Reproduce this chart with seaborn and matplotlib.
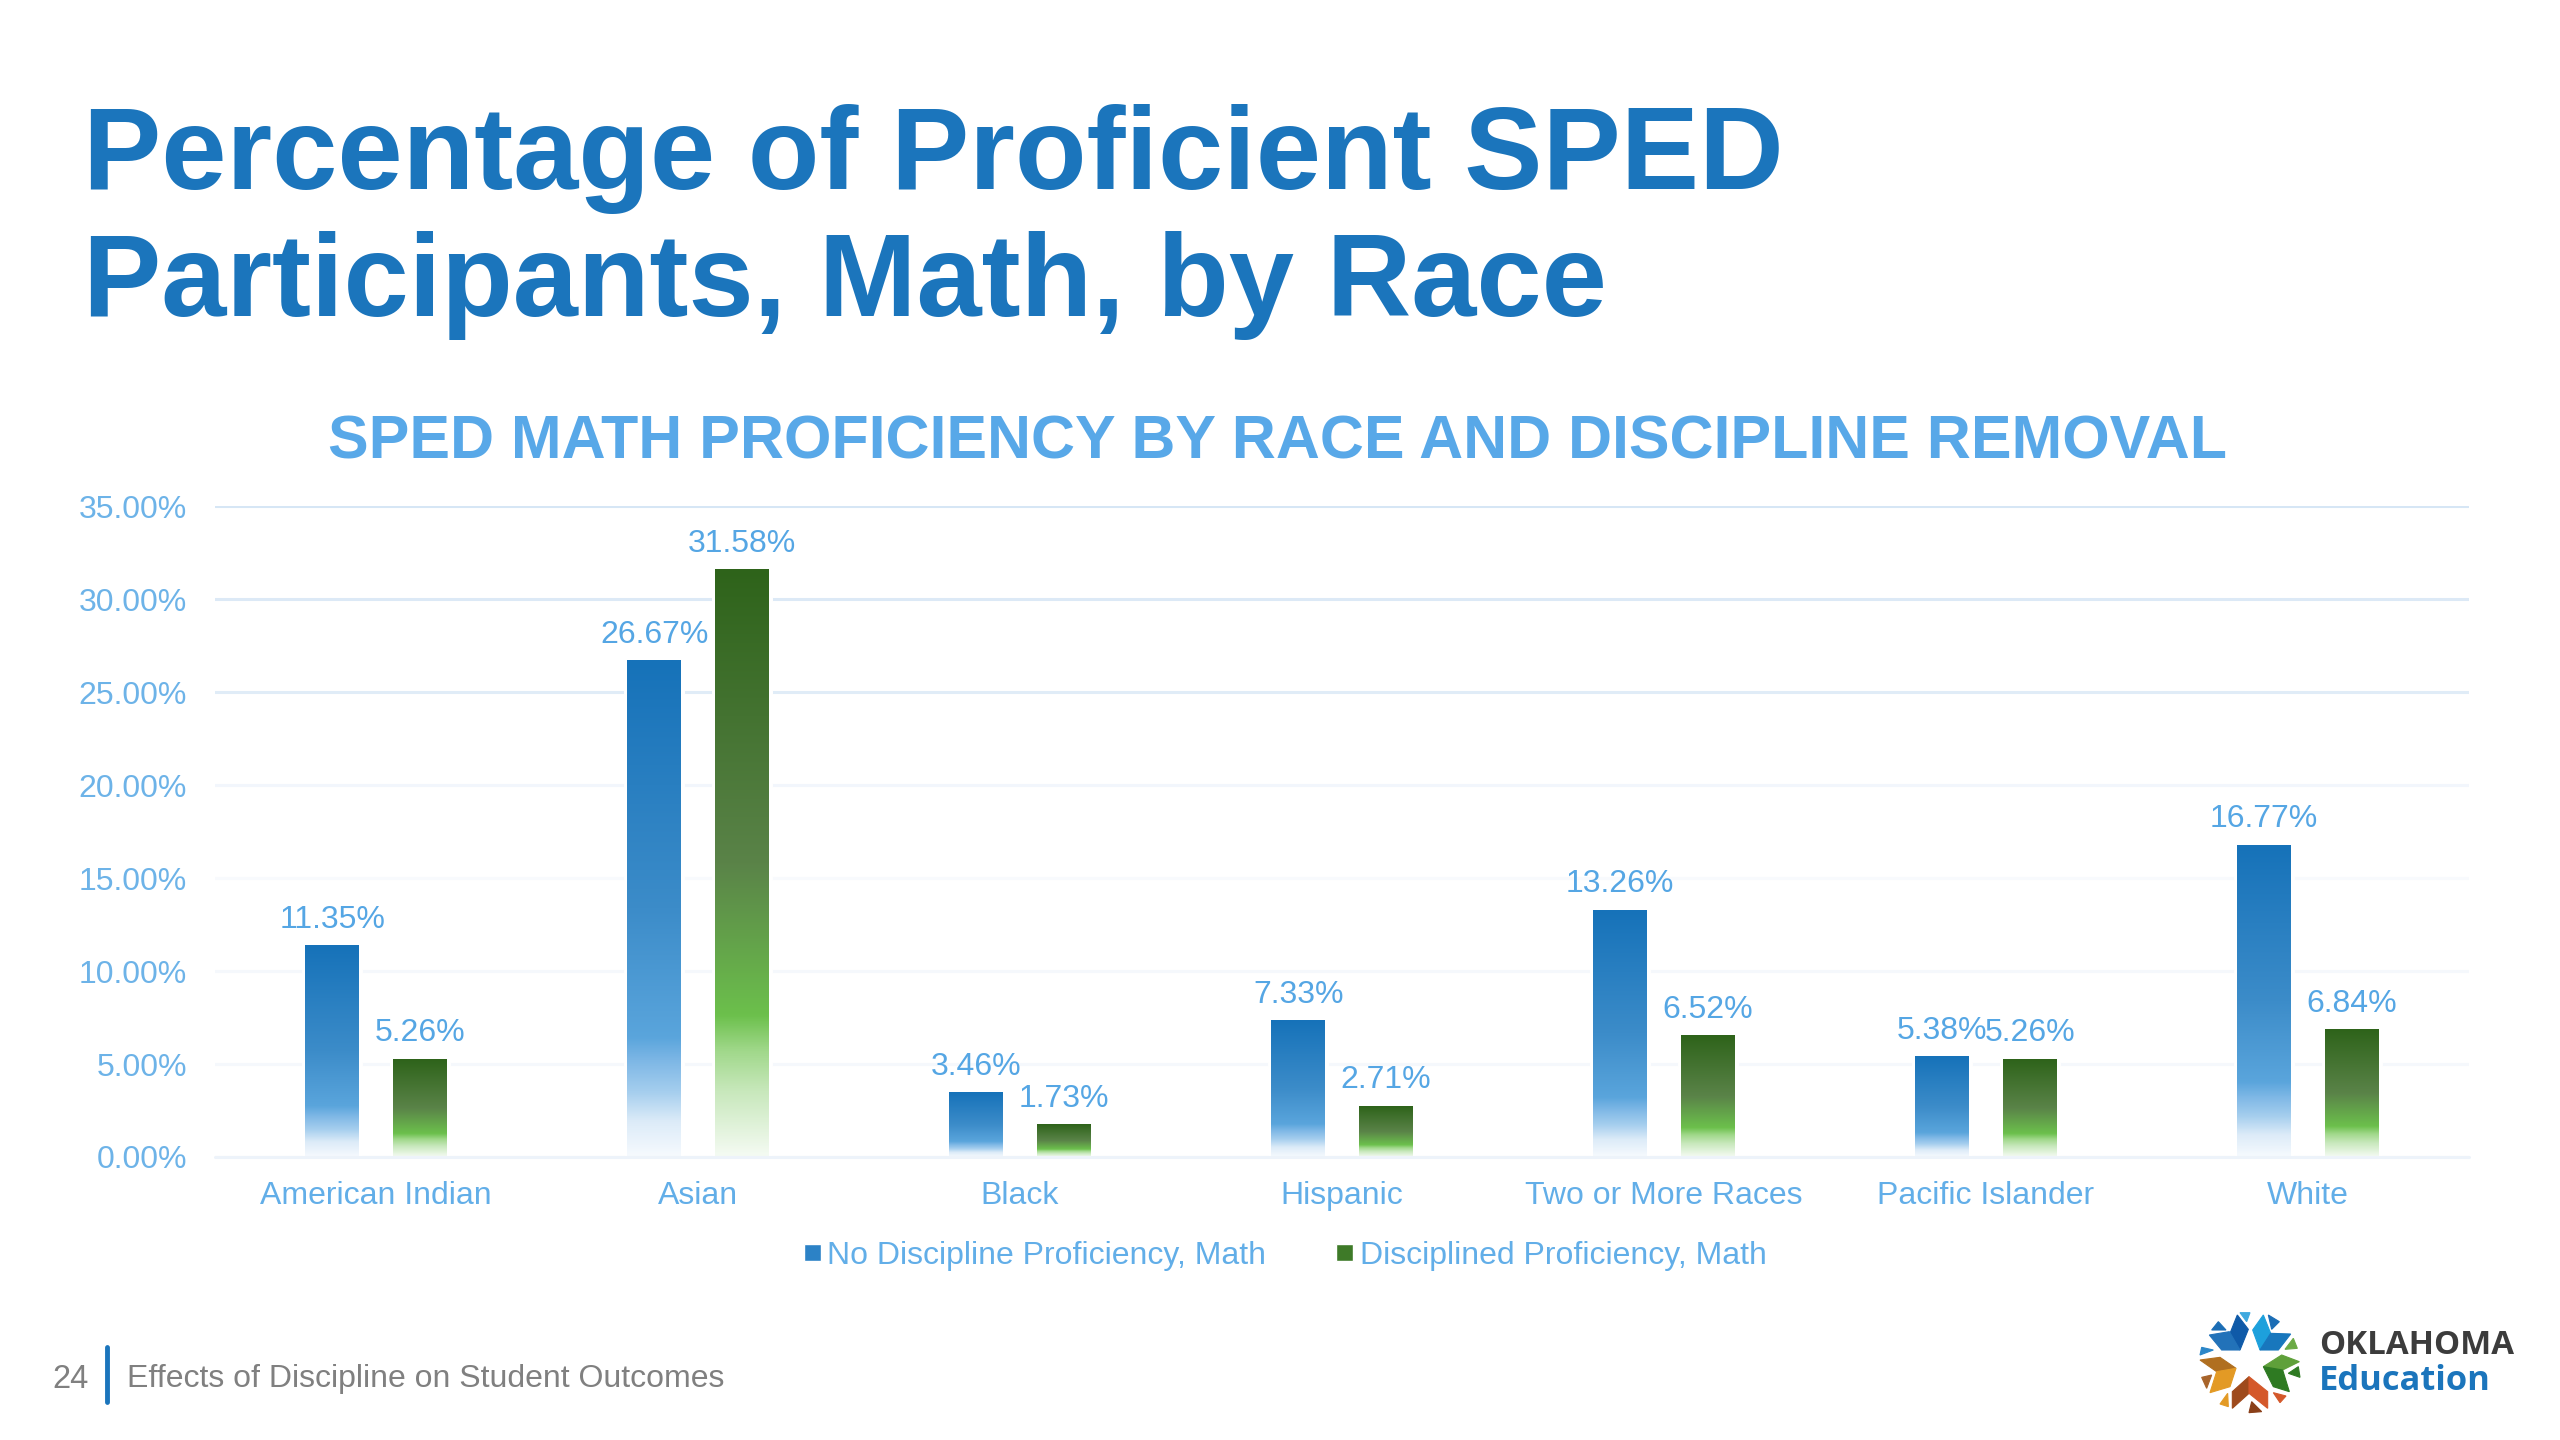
import numpy as np
import pandas as pd
import matplotlib
matplotlib.use("Agg")
import matplotlib.pyplot as plt
from matplotlib.colors import LinearSegmentedColormap
from matplotlib.patches import Polygon, Rectangle
from matplotlib.lines import Line2D
import seaborn as sns

races = ["American Indian", "Asian", "Black", "Hispanic", "Two or More Races", "Pacific Islander", "White"]
no_discipline = [11.35, 26.67, 3.46, 7.33, 13.26, 5.38, 16.77]
disciplined = [5.26, 31.58, 1.73, 2.71, 6.52, 5.26, 6.84]
series_names = ["No Discipline Proficiency, Math", "Disciplined Proficiency, Math"]
ticks = [0, 5, 10, 15, 20, 25, 30, 35]

W, H = 2560, 1440
sns.set_theme(style="white")
plt.rcParams["font.family"] = ["Liberation Sans", "DejaVu Sans"]

df = pd.DataFrame({
    "race": races * 2,
    "series": [series_names[0]] * 7 + [series_names[1]] * 7,
    "value": no_discipline + disciplined,
})

fig = plt.figure(figsize=(W / 100, H / 100), dpi=100, facecolor="white")
ax = fig.add_axes([215 / W, 1 - 1157 / H, (2469 - 215) / W, (1157 - 506) / H])
sns.barplot(data=df, x="race", y="value", hue="series", order=races, hue_order=series_names,
            palette=["#4A97D3", "#55883F"], width=0.544, gap=0.385, legend=False, ax=ax, zorder=2)

blue_cm = LinearSegmentedColormap.from_list("b", [(0, "#1672B9"), (0.5, "#3C8CC9"), (0.76, "#5AA5DC"), (0.81, "#7FB8E6"),
                                                  (0.87, "#A5CEEE"), (0.93, "#DCEBF8"), (1, "#F6FAFE")])
green_cm = LinearSegmentedColormap.from_list("g", [(0, "#2E631A"), (0.5, "#5A8348"), (0.76, "#6CC04C"), (0.82, "#A0D88A"),
                                                   (0.89, "#C8E8BC"), (1, "#F5FBF3")])
grad = np.linspace(0, 1, 256).reshape(-1, 1)

for cont, cm in zip(ax.containers, [blue_cm, green_cm]):
    for p in cont.patches:
        x0, w, h = p.get_x(), p.get_width(), p.get_height()
        p.set_facecolor("white")
        p.set_edgecolor("white")
        p.set_linewidth(5)
        ax.imshow(grad, cmap=cm, aspect="auto", extent=(x0, x0 + w, 0, h), zorder=3, vmin=0, vmax=1)
    ax.bar_label(cont, fmt="%.2f%%", padding=8, color="#55A6E4", fontsize=23, zorder=5)

ax.set_xlim(-0.5, 6.5)
ax.set_ylim(0, 35)
ax.set_yticks(ticks)
ax.set_yticklabels([f"{t:.2f}%" for t in ticks])
ax.set_xlabel("")
ax.set_ylabel("")
ax.tick_params(axis="y", length=0, pad=20, labelsize=23, labelcolor="#6DB3E8")
ax.tick_params(axis="x", length=0, pad=17.5, labelsize=23, labelcolor="#62AEE8")
sns.despine(ax=ax, left=True, bottom=True)
ax.set_axisbelow(True)
ax.grid(axis="y", linewidth=2.2)
ax.grid(axis="x", visible=False)
grid_cols = ["#EDF3FA", "#F5F8FC", "#F5F8FC", "#F8FAFD", "#F2F6FC", "#E0ECF7", "#DCE9F6", "#D6E6F5"]
for gl, c in zip(ax.get_ygridlines(), grid_cols):
    gl.set_color(c)
ax.axhline(0, color=grid_cols[0], linewidth=2.2, zorder=4, clip_on=False)

# legend
handles = [Rectangle((0, 0), 1, 1, facecolor="#2C82C6"), Rectangle((0, 0), 1, 1, facecolor="#3E7A28")]
leg = fig.legend(handles, series_names, loc="center", bbox_to_anchor=(1285 / W, 1 - 1256 / H), ncols=2,
                 frameon=False, fontsize=23, labelcolor="#62AEE8", handlelength=0.53, handleheight=0.47,
                 handletextpad=0.2, columnspacing=2.2)

# gradient swatches over the legend handles
fig.canvas.draw()
leg_cms = [LinearSegmentedColormap.from_list("lb", ["#1672B9", "#5BA6DE"]),
           LinearSegmentedColormap.from_list("lg", ["#2E631A", "#5A9A40"])]
for h, cm in zip(leg.legend_handles, leg_cms):
    bb = h.get_window_extent().transformed(fig.transFigure.inverted())
    cax = fig.add_axes([bb.x0, bb.y0, bb.width, bb.height])
    cax.imshow(grad, cmap=cm, aspect="auto", vmin=0, vmax=1)
    cax.axis("off")

# texts
fig.text(83 / W, 1 - 189 / H, "Percentage of Proficient SPED", color="#1B75BC", fontsize=84.4, fontweight="bold", va="baseline")
fig.text(83 / W, 1 - 316 / H, "Participants, Math, by Race", color="#1B75BC", fontsize=84.4, fontweight="bold", va="baseline")
fig.text(1278 / W, 1 - 443 / H, "SPED MATH PROFICIENCY BY RACE AND DISCIPLINE REMOVAL", color="#58A8E8",
         fontsize=43.85, fontweight="bold", ha="center", va="center")
fig.text(52 / W, 1 - 1379 / H, "24", color="#808080", fontsize=23.5, va="center")
fig.text(127 / W, 1 - 1379 / H, "Effects of Discipline on Student Outcomes", color="#808080", fontsize=23, va="center")
fig.add_artist(Line2D([107 / W, 107 / W], [1 - 1347 / H, 1 - 1402 / H], color="#1B75BC", lw=3.5))

# logo (decoration), pixel coordinates from top-left of a logo crop
logo = [
    ("#0F5AA8", [(412,135),(445,178),(420,240),(388,195)]),
    ("#2272B9", [(328,195),(388,185),(420,240),(365,240)]),
    ("#1DA0DC", [(490,135),(458,180),(480,240),(512,190)]),
    ("#1877BD", [(512,190),(572,192),(535,240),(480,240)]),
    ("#5FA03A", [(490,290),(545,255),(598,275),(548,300)]),
    ("#2E7A22", [(490,290),(548,300),(568,365),(520,350)]),
    ("#9E4A1C", [(397,365),(447,320),(447,370),(397,415)]),
    ("#D4582A", [(447,320),(503,365),(503,415),(447,370)]),
    ("#B06F20", [(300,270),(360,262),(408,295),(350,305)]),
    ("#E39A25", [(350,305),(408,295),(390,350),(330,368)]),
    ("#1B6DB5", [(335,180),(378,180),(355,155)]),
    ("#3FA9DF", [(420,128),(450,128),(440,155)]),
    ("#1B6DB5", [(505,135),(538,155),(515,178)]),
    ("#2B86C8", [(300,255),(340,240),(305,232)]),
    ("#6BAA45", [(555,238),(592,235),(580,205)]),
    ("#2E7A22", [(565,310),(600,322),(595,290)]),
    ("#D4582A", [(520,368),(558,378),(540,398)]),
    ("#E39A25", [(360,402),(385,410),(383,370)]),
    ("#A8642A", [(305,322),(335,315),(320,355)]),
    ("#8A3F18", [(447,428),(485,425),(455,395)]),
]
for col, pts in logo:
    xy = [((2100 + x / 3) / W, 1 - (1270 + y / 3) / H) for x, y in pts]
    fig.add_artist(Polygon(xy, closed=True, facecolor=col, edgecolor=col, linewidth=0.8, transform=fig.transFigure))
fig.text(2319 / W, 1 - 1345 / H, "OKLAHOMA", color="#3C3C3C", fontsize=23.8, fontweight="bold", va="center", family="Open Sans")
fig.text(2319 / W, 1 - 1381 / H, "Education", color="#1B75BC", fontsize=24.8, fontweight="bold", va="center", family="Open Sans")

fig.savefig("out.png", dpi=100, facecolor="white")
